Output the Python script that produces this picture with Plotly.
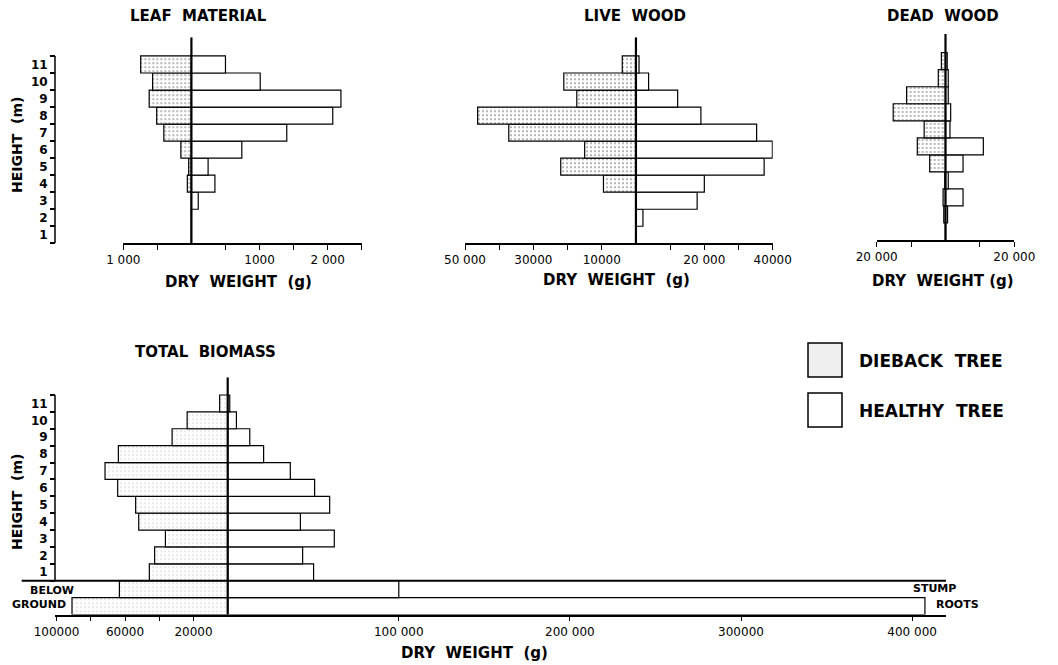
import plotly.graph_objects as go

# page body adds an 8 px offset; work in screen pixels and convert
OX, OY = 8, 8
W, H = 1058 - OX, 665 - OY

# ---------------- data (grams) ----------------
heights = list(range(1, 12))
height_labels = [str(h) for h in heights]

leaf_healthy = [0, 0, 100, 345, 245, 740, 1400, 2075, 2195, 1010, 500]
leaf_dieback = [0, 0, 0, 60, 40, 155, 405, 510, 620, 570, 745]

live_healthy = [0, 2050, 17900, 20000, 37500, 39900, 35300, 19000, 12200, 3700, 900]
live_dieback = [0, 0, 0, 9500, 22000, 15000, 37200, 46300, 17300, 21100, 4000]

dead_healthy = [0, 600, 5100, 800, 5100, 11000, 1300, 1500, 800, 800, 500]
dead_dieback = [0, 500, 700, 200, 4600, 8200, 6200, 15200, 11300, 2100, 1200]

total_healthy = [50200, 43800, 62300, 42500, 59600, 50800, 36600, 21000, 12900, 5100, 1200]
total_dieback = [45800, 42700, 36400, 52000, 53800, 64300, 71700, 63900, 32500, 23700, 4700]

below_parts = ["ROOTS", "STUMP"]          # bottom row first
below_healthy = [407500, 100000]
below_dieback = [91000, 63300]

leaf_ticks = [-1000, -500, 500, 1000, 1500, 2000, 2500]
leaf_ticktext = ["1 000", "", "", "1000", "", "2 000", ""]
live_ticks = [-50000, -40000, -30000, -20000, -10000, 10000, 20000, 30000, 40000]
live_ticktext = ["50 000", "", "30000", "", "10000", "", "20 000", "", "40000"]
dead_ticks = [-20000, -10000, 10000, 20000]
dead_ticktext = ["20 000", "", "", "20 000"]
total_ticks = [-100000, -80000, -60000, -40000, -20000, 100000, 200000, 300000, 400000]
total_ticktext = ["100000", "", "60000", "", "20000", "100 000", "200 000", "300000", "400 000"]

FONT = "DejaVu Sans"


def px(x):
    return (x - OX) / W


def py(y):
    return 1 - (y - OY) / H


fig = go.Figure()

height_pos = [h - 0.5 for h in heights]
below_pos = [-1.5 + i for i in range(len(below_parts))]  # ROOTS -1.5, STUMP -0.5


def add_pair(xa, ya, ys, names, healthy, dieback, dot_color, solidity):
    fig.add_trace(go.Bar(
        x=[-v for v in dieback], y=ys, orientation="h", width=1,
        xaxis=xa, yaxis=ya, name="DIEBACK TREE", showlegend=False,
        customdata=list(zip(names, dieback)),
        hovertemplate="Dieback, %{customdata[0]}: %{customdata[1]} g<extra></extra>",
        marker=dict(color="white", line=dict(color="black", width=1.2),
                    pattern=dict(shape=".", fgcolor=dot_color, bgcolor="white",
                                 size=4, solidity=solidity)),
    ))
    fig.add_trace(go.Bar(
        x=healthy, y=ys, orientation="h", width=1,
        xaxis=xa, yaxis=ya, name="HEALTHY TREE", showlegend=False,
        customdata=list(zip(names, healthy)),
        hovertemplate="Healthy, %{customdata[0]}: %{customdata[1]} g<extra></extra>",
        marker=dict(color="white", line=dict(color="black", width=1.2)),
    ))


add_pair("x", "y", height_pos, height_labels, leaf_healthy, leaf_dieback, "#a6a6a6", 0.22)
add_pair("x2", "y2", height_pos, height_labels, live_healthy, live_dieback, "#a6a6a6", 0.22)
add_pair("x3", "y3", height_pos, height_labels, dead_healthy, dead_dieback, "#a6a6a6", 0.22)
add_pair("x4", "y4", height_pos + below_pos, height_labels + below_parts,
         total_healthy + below_healthy, total_dieback + below_dieback, "#cccccc", 0.12)

tickfont = dict(family=FONT, size=12, color="black")


def xaxis(domain, rng, tickvals, ticktext, anchor):
    return dict(domain=domain, range=rng, anchor=anchor, tickvals=tickvals,
                ticktext=ticktext, ticks="outside", ticklen=5, tickwidth=1.3,
                tickcolor="black", showline=True, linecolor="black", linewidth=1.5,
                showgrid=False, zeroline=False, tickfont=tickfont, fixedrange=True,
                automargin=False)


top_dom = [py(243.3), py(243.3 - 12.1 * 17.03)]
dead_dom = [py(240.0), py(240.0 - 12.1 * 17.03)]
tot_dom = [py(614.5), py(395 - 1.05 * 16.885)]


def yaxis_labeled(domain, rng):
    return dict(
        domain=domain, range=rng, anchor="free", position=px(55),
        tickvals=height_pos, ticktext=height_labels, ticks="outside", ticklen=5,
        tickcolor="rgba(0,0,0,0)",
        minor=dict(tickvals=list(range(0, 12)), ticks="outside", ticklen=5,
                   tickcolor="black", tickwidth=1.5),
        showline=False, showgrid=False, zeroline=False, automargin=False,
        tickfont=dict(family=FONT, size=12, color="black", weight="bold"),
        fixedrange=True)


fig.update_layout(
    template="none",
    width=W, height=H, margin=dict(l=0, r=0, t=0, b=0, pad=0), autosize=False,
    paper_bgcolor="white", plot_bgcolor="white", barmode="overlay",
    showlegend=False,
    xaxis=xaxis([px(123.3), px(361.7)], [-1000, 2500], leaf_ticks, leaf_ticktext, "y"),
    yaxis=yaxis_labeled(top_dom, [0, 12.1]),
    xaxis2=xaxis([px(465), px(772.7)], [-50000, 40000], live_ticks, live_ticktext, "y2"),
    yaxis2=dict(domain=top_dom, range=[0, 12.1], visible=False, fixedrange=True),
    xaxis3=xaxis([px(876.7), px(1014.3)], [-20000, 20000], dead_ticks, dead_ticktext, "y3"),
    yaxis3=dict(domain=dead_dom, range=[0, 12.1], visible=False, fixedrange=True),
    xaxis4=xaxis([px(55), px(946)], [-100935, 419813], total_ticks, total_ticktext, "y4"),
    yaxis4=yaxis_labeled(tot_dom, [-2, 12.05]),
)

shapes = []
# y-axis lines (heights 0..11 only)
for yref in ["y", "y4"]:
    shapes.append(dict(type="line", xref="paper", x0=px(55), x1=px(55), yref=yref,
                       y0=0, y1=11, line=dict(color="black", width=1.5)))
# central zero lines
for xref, yref, y0, y1 in [("x", "y", 0, 12.1), ("x2", "y2", 0, 12.1),
                           ("x3", "y3", 0, 12.1), ("x4", "y4", -2, 12.05)]:
    shapes.append(dict(type="line", xref=xref, x0=0, x1=0, yref=yref, y0=y0, y1=y1,
                       line=dict(color="black", width=2.2), layer="above"))
# ground line
shapes.append(dict(type="line", xref="paper", x0=px(21.7), x1=px(946), yref="y4",
                   y0=0, y1=0, line=dict(color="black", width=2), layer="above"))
# legend boxes
shapes.append(dict(type="rect", xref="paper", yref="paper", x0=px(808), x1=px(842),
                   y0=py(377), y1=py(343), fillcolor="#efefef",
                   line=dict(color="black", width=1.5)))
shapes.append(dict(type="rect", xref="paper", yref="paper", x0=px(808), x1=px(842),
                   y0=py(427), y1=py(393), fillcolor="white",
                   line=dict(color="black", width=1.5)))
fig.update_layout(shapes=shapes)


def ann(text, x, y, size, xanchor="center", angle=0, bold=True):
    return dict(text=("<b>%s</b>" % text) if bold else text, xref="paper", yref="paper",
                x=px(x), y=py(y), xanchor=xanchor, yanchor="middle", showarrow=False,
                textangle=angle, font=dict(family=FONT, size=size, color="black"))


annotations = [
    ann("LEAF  MATERIAL", 198, 16, 15),
    ann("LIVE  WOOD", 635, 16, 15),
    ann("DEAD  WOOD", 943, 16, 15),
    ann("TOTAL  BIOMASS", 205, 352, 15),
    ann("DRY  WEIGHT  (g)", 238, 282, 15),
    ann("DRY  WEIGHT  (g)", 616, 280, 15),
    ann("DRY  WEIGHT (g)", 943, 281, 15),
    ann("DRY  WEIGHT  (g)", 474, 653, 15),
    ann("HEIGHT  (m)", 17, 145, 14, angle=-90),
    ann("HEIGHT  (m)", 17, 502, 14, angle=-90),
    ann("BELOW", 52, 590, 11),
    ann("GROUND", 39, 604, 11),
    ann("STUMP", 934, 588, 11),
    ann("ROOTS", 957, 604, 11),
    ann("DIEBACK  TREE", 857, 361, 17, xanchor="left"),
    ann("HEALTHY  TREE", 857, 411, 17, xanchor="left"),
]
fig.update_layout(annotations=annotations)

fig.write_html("out.html")
